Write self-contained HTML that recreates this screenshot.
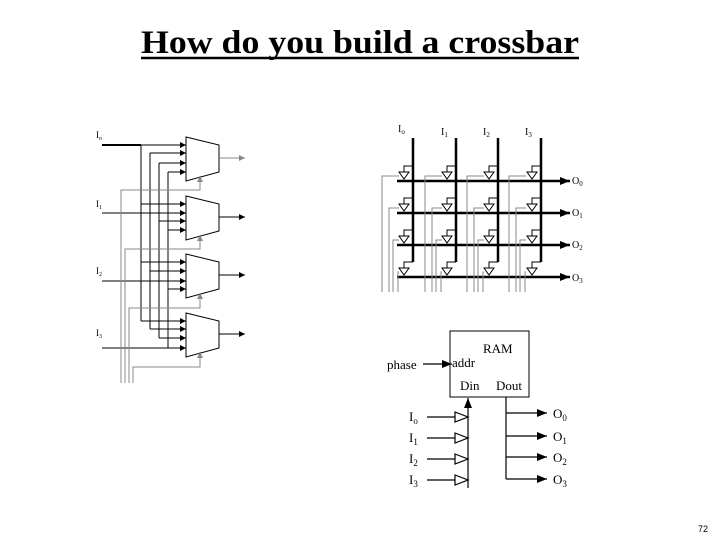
<!DOCTYPE html>
<html><head><meta charset="utf-8"><style>
body{margin:0;width:720px;height:540px;background:#fff;overflow:hidden}
svg{position:absolute;left:0;top:0}
</style></head><body>
<svg width="720" height="540" viewBox="0 0 720 540" font-family="Liberation Serif, serif">
<text x="141" y="53" font-size="33" font-weight="bold" textLength="438" lengthAdjust="spacingAndGlyphs">How do you build a crossbar</text>
<line x1="141" y1="58" x2="579" y2="58" stroke="#000" stroke-width="2.5"/>
<defs>
<marker id="a" markerWidth="6" markerHeight="6" refX="6" refY="3" orient="auto" markerUnits="userSpaceOnUse"><path d="M0,0L6,3L0,6z" fill="#000"/></marker>
<marker id="g" markerWidth="6" markerHeight="6" refX="6" refY="3" orient="auto" markerUnits="userSpaceOnUse"><path d="M0,0L6,3L0,6z" fill="#888"/></marker>
<marker id="b" markerWidth="10" markerHeight="8" refX="10" refY="4" orient="auto" markerUnits="userSpaceOnUse"><path d="M0,0L10,4L0,8z" fill="#000"/></marker>
</defs>
<g font-size="9">
<text x="96" y="138">I<tspan font-size="6" dy="2">o</tspan></text>
<text x="96" y="207">I<tspan font-size="6" dy="2">1</tspan></text>
<text x="96" y="274">I<tspan font-size="6" dy="2">2</tspan></text>
<text x="96" y="336">I<tspan font-size="6" dy="2">3</tspan></text>
</g>
<g stroke="#000" fill="none" stroke-width="1">
<line x1="102" y1="145" x2="141" y2="145" stroke-width="2"/>
<line x1="102" y1="213" x2="150" y2="213"/>
<line x1="102" y1="281" x2="159" y2="281"/>
<line x1="102" y1="348" x2="168" y2="348"/>
<line x1="141" y1="145" x2="141" y2="321"/>
<line x1="150" y1="153" x2="150" y2="329"/>
<line x1="159" y1="163" x2="159" y2="338"/>
<line x1="168" y1="172" x2="168" y2="348"/>
</g>
<g stroke="#000" fill="#fff" stroke-width="1">
<path d="M186,137 L219,145 L219,172 L186,181 Z"/>
<path d="M186,196 L219,204 L219,231 L186,240 Z"/>
<path d="M186,254 L219,262 L219,289 L186,298 Z"/>
<path d="M186,313 L219,321 L219,348 L186,357 Z"/>
</g>
<g stroke="#000" stroke-width="1" marker-end="url(#a)">
<line x1="141" y1="145" x2="186" y2="145"/><line x1="150" y1="153" x2="186" y2="153"/><line x1="159" y1="163" x2="186" y2="163"/><line x1="168" y1="172" x2="186" y2="172"/>
<line x1="141" y1="204" x2="186" y2="204"/><line x1="150" y1="213" x2="186" y2="213"/><line x1="159" y1="221" x2="186" y2="221"/><line x1="168" y1="230" x2="186" y2="230"/>
<line x1="141" y1="262" x2="186" y2="262"/><line x1="150" y1="271" x2="186" y2="271"/><line x1="159" y1="281" x2="186" y2="281"/><line x1="168" y1="289" x2="186" y2="289"/>
<line x1="141" y1="321" x2="186" y2="321"/><line x1="150" y1="329" x2="186" y2="329"/><line x1="159" y1="338" x2="186" y2="338"/><line x1="168" y1="348" x2="186" y2="348"/>
<line x1="219" y1="217" x2="245" y2="217"/><line x1="219" y1="275" x2="245" y2="275"/><line x1="219" y1="334" x2="245" y2="334"/>
</g>
<line x1="219" y1="158" x2="245" y2="158" stroke="#888" marker-end="url(#g)"/>
<g stroke="#888" fill="none" stroke-width="1">
<path d="M121,383 V190 H200 V176" marker-end="url(#g)"/>
<path d="M125,383 V249 H200 V235" marker-end="url(#g)"/>
<path d="M129,383 V308 H200 V293" marker-end="url(#g)"/>
<path d="M133,383 V367 H200 V352" marker-end="url(#g)"/>
</g>
<g font-size="10">
<text x="398" y="132">I<tspan font-size="7" dy="2">o</tspan></text>
<text x="441" y="135">I<tspan font-size="7" dy="2">1</tspan></text>
<text x="483" y="135">I<tspan font-size="7" dy="2">2</tspan></text>
<text x="525" y="135">I<tspan font-size="7" dy="2">3</tspan></text>
<text x="572" y="184">O<tspan font-size="7" dy="2">0</tspan></text>
<text x="572" y="216">O<tspan font-size="7" dy="2">1</tspan></text>
<text x="572" y="248">O<tspan font-size="7" dy="2">2</tspan></text>
<text x="572" y="281">O<tspan font-size="7" dy="2">3</tspan></text>
</g>
<g stroke="#000" stroke-width="2.5">
<line x1="413" y1="138" x2="413" y2="262"/><line x1="456" y1="138" x2="456" y2="262"/><line x1="498" y1="138" x2="498" y2="262"/><line x1="541" y1="138" x2="541" y2="262"/>
</g>
<g stroke="#000" stroke-width="2.5" marker-end="url(#b)">
<line x1="397" y1="181" x2="570" y2="181"/><line x1="397" y1="213" x2="570" y2="213"/><line x1="397" y1="245" x2="570" y2="245"/><line x1="397" y1="277" x2="570" y2="277"/>
</g>
<g stroke="#888" fill="none" stroke-width="1">
<path d="M382,292V176H399M389,292V208H399M393,292V240H399M398,292V272H399"/>
<path d="M425,292V176H442M432,292V208H442M436,292V240H442M441,292V272H442"/>
<path d="M467,292V176H484M474,292V208H484M478,292V240H484M483,292V272H484"/>
<path d="M509,292V176H526M516,292V208H526M520,292V240H526M525,292V272H526"/>
</g>
<g stroke="#000" fill="#fff" stroke-width="1">
<g id="bf"><path d="M399,172H409L404,179Z"/><path d="M404,172V166H413" fill="none"/></g>
<use href="#bf" x="0" y="32"/><use href="#bf" x="0" y="64"/><use href="#bf" x="0" y="96"/>
<use href="#bf" x="43" y="0"/><use href="#bf" x="43" y="32"/><use href="#bf" x="43" y="64"/><use href="#bf" x="43" y="96"/>
<use href="#bf" x="85" y="0"/><use href="#bf" x="85" y="32"/><use href="#bf" x="85" y="64"/><use href="#bf" x="85" y="96"/>
<use href="#bf" x="128" y="0"/><use href="#bf" x="128" y="32"/><use href="#bf" x="128" y="64"/><use href="#bf" x="128" y="96"/>
</g>
<rect x="450" y="331" width="79" height="66" fill="#fff" stroke="#000"/>
<g font-size="13">
<text x="483" y="353">RAM</text>
<text x="452" y="367">addr</text>
<text x="460" y="390">Din</text>
<text x="496" y="390">Dout</text>
<text x="387" y="369">phase</text>
<text x="409" y="421">I<tspan font-size="9" dy="3">o</tspan></text>
<text x="409" y="442">I<tspan font-size="9" dy="3">1</tspan></text>
<text x="409" y="463">I<tspan font-size="9" dy="3">2</tspan></text>
<text x="409" y="484">I<tspan font-size="9" dy="3">3</tspan></text>
<text x="553" y="418">O<tspan font-size="9" dy="3">0</tspan></text>
<text x="553" y="441">O<tspan font-size="9" dy="3">1</tspan></text>
<text x="553" y="462">O<tspan font-size="9" dy="3">2</tspan></text>
<text x="553" y="484">O<tspan font-size="9" dy="3">3</tspan></text>
</g>
<g stroke="#000" stroke-width="1.2" fill="none">
<line x1="423" y1="364" x2="452" y2="364" marker-end="url(#b)"/>
<line x1="468" y1="488" x2="468" y2="398" marker-end="url(#b)"/>
<line x1="427" y1="417" x2="455" y2="417"/><line x1="427" y1="438" x2="455" y2="438"/><line x1="427" y1="459" x2="455" y2="459"/><line x1="427" y1="480" x2="455" y2="480"/>
<path d="M455,412L468,417L455,422Z M455,433L468,438L455,443Z M455,454L468,459L455,464Z M455,475L468,480L455,485Z" fill="#fff"/>
<line x1="506" y1="397" x2="506" y2="479"/>
<line x1="506" y1="413" x2="547" y2="413" marker-end="url(#b)"/>
<line x1="506" y1="436" x2="547" y2="436" marker-end="url(#b)"/>
<line x1="506" y1="457" x2="547" y2="457" marker-end="url(#b)"/>
<line x1="506" y1="479" x2="547" y2="479" marker-end="url(#b)"/>
</g>
<text x="698" y="532" font-size="9" font-family="Liberation Sans, sans-serif">72</text>
</svg>
</body></html>
